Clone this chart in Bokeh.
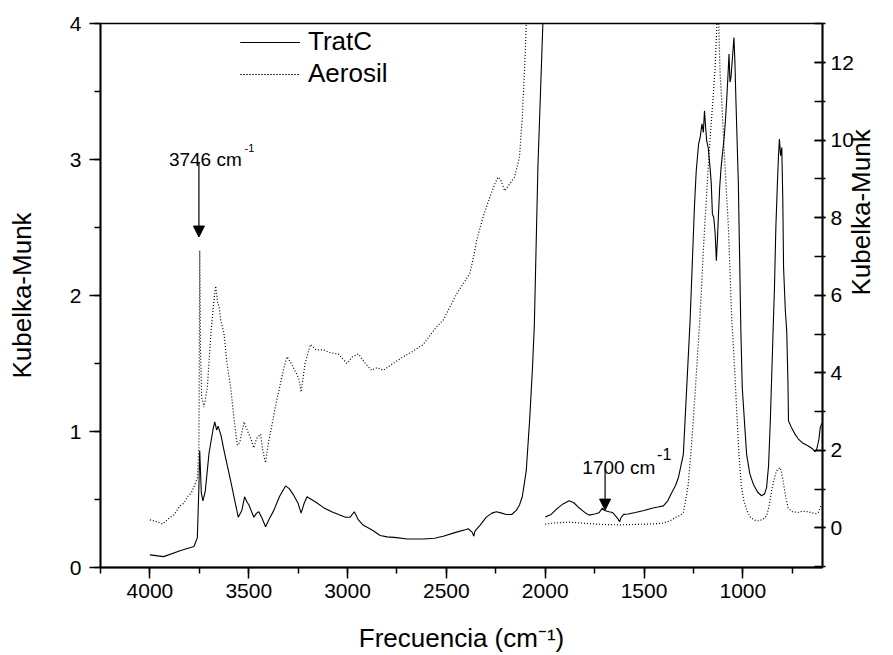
import math
from bokeh.plotting import figure
from bokeh.models import (Range1d, LinearAxis, SingleIntervalTicker, Legend, LegendItem,
                          Arrow, NormalHead, Label)
from bokeh.embed import file_html
from bokeh.resources import INLINE

FONT = "Liberation Sans"

# ---------------- data ----------------
# 4000-2000 cm-1 region, left axis
tratc_hi_x = [4000, 3930, 3844, 3777, 3760, 3752, 3748, 3740, 3732, 3720, 3701, 3680, 3672,
              3662, 3655, 3640, 3625, 3592, 3553, 3535, 3521, 3508, 3499, 3474, 3460, 3449,
              3432, 3415, 3395, 3373, 3345, 3314, 3295, 3272, 3250, 3235, 3220, 3205, 3160,
              3121, 3080, 3046, 3010, 2987, 2966, 2945, 2920, 2894, 2870, 2835, 2800, 2751,
              2700, 2617, 2560, 2516, 2449, 2400, 2390, 2370, 2361, 2355, 2348, 2330, 2298,
              2270, 2247, 2220, 2197, 2170, 2146, 2130, 2116, 2096, 2079, 2065, 2055, 2037,
              2012, 2000]
tratc_hi_y = [0.093, 0.08, 0.125, 0.154, 0.22, 0.60, 0.86, 0.55, 0.49, 0.56, 0.84, 1.02, 1.07,
              1.01, 1.04, 0.97, 0.86, 0.64, 0.37, 0.42, 0.52, 0.48, 0.46, 0.37, 0.40, 0.41,
              0.36, 0.30, 0.36, 0.42, 0.52, 0.60, 0.58, 0.53, 0.47, 0.40, 0.47, 0.52, 0.48,
              0.44, 0.41, 0.39, 0.37, 0.37, 0.41, 0.35, 0.31, 0.29, 0.27, 0.235, 0.225, 0.22,
              0.21, 0.21, 0.215, 0.23, 0.26, 0.28, 0.285, 0.26, 0.23, 0.27, 0.28, 0.31, 0.37,
              0.40, 0.41, 0.40, 0.39, 0.39, 0.42, 0.46, 0.52, 0.71, 1.08, 1.45, 1.78, 2.94,
              3.99, 4.6]

aerosil_hi_x = [4000, 3970, 3936, 3905, 3877, 3850, 3830, 3810, 3790, 3770, 3760, 3752, 3748,
                3744, 3738, 3726, 3709, 3690, 3675, 3667, 3658, 3650, 3642, 3625, 3610, 3592,
                3575, 3558, 3545, 3524, 3505, 3490, 3474, 3460, 3440, 3428, 3415, 3400, 3381,
                3360, 3340, 3320, 3306, 3285, 3256, 3245, 3235, 3215, 3188, 3160, 3121, 3090,
                3046, 3003, 2975, 2945, 2910, 2878, 2850, 2819, 2770, 2718, 2670, 2617, 2550,
                2516, 2449, 2382, 2360, 2348, 2314, 2281, 2255, 2239, 2225, 2205, 2180, 2155,
                2130, 2116, 2104, 2096, 2085]
aerosil_hi_y = [0.35, 0.34, 0.32, 0.36, 0.39, 0.45, 0.47, 0.52, 0.55, 0.62, 0.66, 0.88, 2.33,
                1.60, 1.25, 1.18, 1.33, 1.75, 1.98, 2.07, 1.95, 1.92, 1.82, 1.72, 1.50, 1.33,
                1.10, 0.90, 0.92, 1.07, 1.00, 0.95, 0.88, 0.95, 0.98, 0.85, 0.77, 0.92, 1.06,
                1.22, 1.35, 1.48, 1.55, 1.50, 1.42, 1.38, 1.29, 1.50, 1.64, 1.60, 1.60, 1.58,
                1.57, 1.50, 1.55, 1.57, 1.50, 1.45, 1.47, 1.45, 1.50, 1.55, 1.59, 1.64, 1.77,
                1.82, 2.01, 2.16, 2.30, 2.40, 2.58, 2.72, 2.82, 2.87, 2.85, 2.77, 2.82, 2.87,
                3.02, 3.31, 3.68, 3.99, 4.5]

# 2000-600 cm-1 region, right axis
tratc_lo_x = [2000, 1970, 1940, 1910, 1879, 1855, 1829, 1800, 1778, 1750, 1728, 1711, 1700,
              1677, 1660, 1644, 1630, 1624, 1615, 1603, 1580, 1544, 1500, 1460, 1430, 1402,
              1380, 1360, 1340, 1326, 1301, 1284, 1267, 1256, 1245, 1236, 1224, 1215, 1207,
              1200, 1194, 1188, 1183, 1175, 1166, 1160, 1154, 1147, 1140, 1134, 1128, 1124,
              1117, 1110, 1100, 1093, 1087, 1082, 1076, 1070, 1065, 1060, 1053, 1045, 1040,
              1035, 1023, 1010, 1003, 990, 981, 965, 947, 925, 905, 890, 880, 870, 861, 848,
              840, 833, 825, 820, 815, 809, 803, 798, 794, 785, 778, 772, 769, 755, 736, 720,
              700, 685, 665, 650, 635, 628, 622, 615, 608, 600]
tratc_lo_y = [0.28, 0.35, 0.50, 0.62, 0.70, 0.65, 0.52, 0.40, 0.33, 0.36, 0.39, 0.51, 0.45,
              0.42, 0.40, 0.31, 0.22, 0.16, 0.28, 0.35, 0.36, 0.40, 0.45, 0.51, 0.54, 0.57,
              0.70, 0.91, 1.10, 1.30, 1.90, 3.62, 5.34, 6.8, 8.27, 9.2, 9.90, 10.1, 10.42,
              10.2, 10.76, 10.3, 9.99, 9.8, 9.30, 8.9, 8.10, 8.0, 7.58, 6.89, 7.5, 8.01,
              8.8, 9.30, 9.8, 10.16, 10.6, 11.02, 11.6, 12.22, 11.5, 11.62, 12.1, 12.65, 12.0,
              11.02, 8.95, 5.08, 3.62, 2.6, 1.90, 1.4, 1.13, 0.92, 0.83, 0.88, 1.04, 1.6, 2.76,
              4.91, 6.2, 7.75, 8.9, 9.56, 10.03, 9.6, 9.81, 8.5, 6.72, 5.6, 5.08, 3.8, 2.76,
              2.6, 2.42, 2.3, 2.2, 2.16, 2.1, 2.05, 1.97, 2.0, 2.12, 2.3, 2.6, 2.7]

aerosil_lo_x = [2000, 1950, 1879, 1800, 1711, 1627, 1550, 1480, 1409, 1370, 1342, 1315, 1301,
                1290, 1276, 1262, 1251, 1240, 1229, 1217, 1200, 1187, 1175, 1165, 1154, 1140,
                1132, 1126, 1120, 1115, 1107, 1090, 1073, 1056, 1050, 1037, 1020, 1008, 995,
                980, 961, 940, 919, 900, 880, 868, 855, 842, 830, 813, 805, 796, 785, 771, 750,
                720, 700, 670, 650, 628, 618, 610, 600]
aerosil_lo_y = [0.10, 0.13, 0.15, 0.12, 0.09, 0.08, 0.09, 0.10, 0.12, 0.18, 0.27, 0.33, 0.40,
                0.7, 1.13, 2.0, 2.76, 3.6, 4.48, 5.43, 7.15, 8.3, 9.30, 10.1, 10.85, 11.88,
                12.9, 13.8, 12.6, 11.71, 11.02, 9.30, 7.75, 5.34, 4.9, 3.62, 1.90, 1.1, 0.70,
                0.45, 0.27, 0.20, 0.18, 0.22, 0.31, 0.55, 0.95, 1.25, 1.47, 1.56, 1.45, 1.21,
                0.85, 0.52, 0.42, 0.40, 0.43, 0.42, 0.39, 0.37, 0.40, 0.52, 0.6]

x_ticks_interval = 500
left_ticks_interval = 1
right_ticks_interval = 2

# ---------------- figure ----------------
p = figure(width=893, height=655, output_backend="svg", toolbar_location=None,
           x_range=Range1d(4250, 597), y_range=Range1d(0, 4),
           min_border_left=100, min_border_right=69, min_border_top=23, min_border_bottom=88,
           background_fill_color="white", border_fill_color="white")
p.extra_y_ranges = {"right": Range1d(-1.02, 13.01)}

p.xgrid.grid_line_color = None
p.ygrid.grid_line_color = None
p.outline_line_color = "black"
p.outline_line_width = 1.5
p.outline_line_alpha = 1.0

xa = p.xaxis[0]
ya = p.yaxis[0]
xa.ticker = SingleIntervalTicker(interval=x_ticks_interval, num_minor_ticks=2)
ya.ticker = SingleIntervalTicker(interval=left_ticks_interval, num_minor_ticks=2)

ra = LinearAxis(y_range_name="right",
                ticker=SingleIntervalTicker(interval=right_ticks_interval, num_minor_ticks=2))
p.add_layout(ra, "right")

xa.axis_label = "Frecuencia (cm\u207b\u00b9)"
ya.axis_label = "Kubelka-Munk"
ra.axis_label = "Kubelka-Munk"

for ax in (xa, ya, ra):
    ax.axis_line_color = "black"
    ax.axis_line_width = 1.8
    ax.major_tick_line_color = "black"
    ax.minor_tick_line_color = "black"
    ax.major_tick_line_width = 1.5
    ax.minor_tick_line_width = 1.5
    ax.major_label_text_font = FONT
    ax.major_label_text_font_size = "21px"
    ax.major_label_text_color = "black"
    ax.axis_label_text_font = FONT
    ax.axis_label_text_font_size = "26px"
    ax.axis_label_text_font_style = "normal"
    ax.axis_label_text_color = "black"

for ax in (xa, ya):
    ax.major_tick_out = 11
    ax.major_tick_in = 0
    ax.minor_tick_out = 6
    ax.minor_tick_in = 0

xa.major_label_standoff = 5
xa.axis_label_standoff = 22
ya.major_label_standoff = 8
ya.axis_label_standoff = 30

ra.major_tick_in = 8
ra.major_tick_out = 3
ra.minor_tick_in = 8
ra.minor_tick_out = 3
ra.major_label_standoff = 5
ra.axis_label_standoff = 4
ra.axis_label_text_line_height = 0.75
try:
    ra.axis_label_orientation = math.pi / 2
except Exception:
    pass

# ---------------- series ----------------
r1 = p.line(tratc_hi_x, tratc_hi_y, line_color="black", line_width=1.1)
r2 = p.line(aerosil_hi_x, aerosil_hi_y, line_color="black", line_width=1.2, line_dash="1 2")
r3 = p.line(tratc_lo_x, tratc_lo_y, line_color="black", line_width=1.1, y_range_name="right")
r4 = p.line(aerosil_lo_x, aerosil_lo_y, line_color="black", line_width=1.2, line_dash="1 2",
            y_range_name="right")

legend = Legend(items=[LegendItem(label="TratC", renderers=[r1, r3]),
                       LegendItem(label="Aerosil", renderers=[r2, r4])],
                location=(140, 478), border_line_color=None, background_fill_alpha=0,
                padding=0, margin=0, spacing=1, glyph_width=60, glyph_height=30,
                label_height=30, label_standoff=8, label_text_font=FONT,
                label_text_font_size="26px", label_text_color="black")
p.add_layout(legend)

# ---------------- annotations ----------------
p.add_layout(Arrow(end=NormalHead(size=11, fill_color="black", line_color="black"),
                   x_start=3752, y_start=2.98, x_end=3752, y_end=2.43,
                   line_color="black", line_width=1.2))
p.add_layout(Label(x=3904, y=3.0, text="3746 cm", text_font=FONT, text_font_size="19px",
                   text_baseline="alphabetic", text_color="black"))
p.add_layout(Label(x=3521, y=3.088, text="-1", text_font=FONT, text_font_size="11px",
                   text_baseline="alphabetic", text_color="black"))

p.add_layout(Arrow(end=NormalHead(size=11, fill_color="black", line_color="black"),
                   x_start=1697, y_start=1.52, x_end=1697, y_end=0.46, y_range_name="right",
                   line_color="black", line_width=1.2))
p.add_layout(Label(x=1812, y=1.55, y_range_name="right", text="1700 cm", text_font=FONT,
                   text_font_size="19px", text_baseline="alphabetic", text_color="black"))
p.add_layout(Label(x=1434, y=1.91, y_range_name="right", text="-1", text_font=FONT,
                   text_font_size="16px", text_baseline="alphabetic", text_color="black"))

open("out.html", "w").write(file_html(p, INLINE))
